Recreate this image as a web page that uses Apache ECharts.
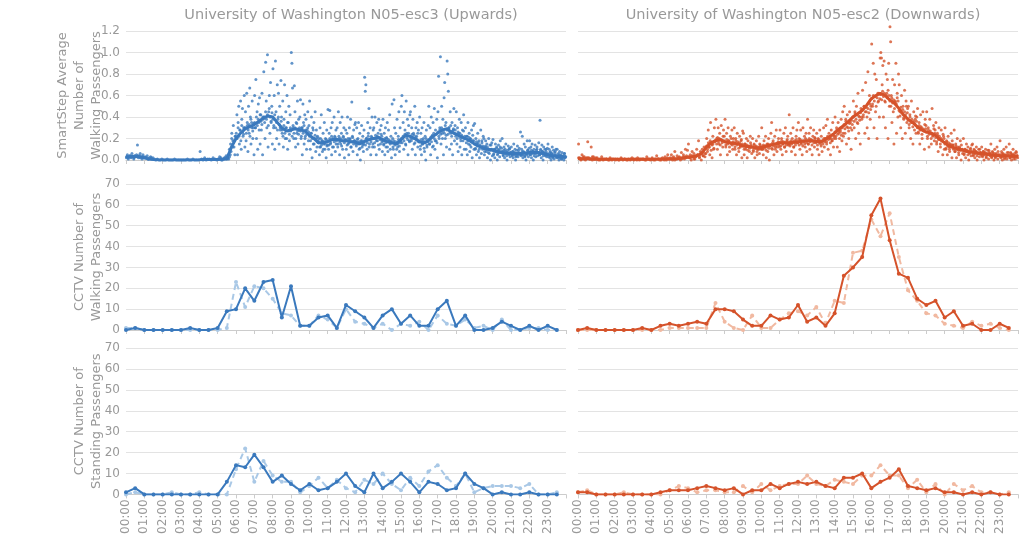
<!DOCTYPE html>
<html><head><meta charset="utf-8">
<script src="https://cdn.jsdelivr.net/npm/echarts@6/dist/echarts.min.js"></script>
<style>html,body{margin:0;padding:0;background:#fff}#c{width:1024px;height:537px}</style>
</head><body><div id="c"></div>
<script>
// ---------- DATA ----------
const hourLabels = ['00:00','01:00','02:00','03:00','04:00','05:00','06:00','07:00','08:00','09:00','10:00','11:00',
  '12:00','13:00','14:00','15:00','16:00','17:00','18:00','19:00','20:00','21:00','22:00','23:00'];
const slotTimes = ['00:00','00:30','01:00','01:30','02:00','02:30','03:00','03:30','04:00','04:30','05:00','05:30',
  '06:00','06:30','07:00','07:30','08:00','08:30','09:00','09:30','10:00','10:30','11:00','11:30',
  '12:00','12:30','13:00','13:30','14:00','14:30','15:00','15:30','16:00','16:30','17:00','17:30',
  '18:00','18:30','19:00','19:30','20:00','20:30','21:00','21:30','22:00','22:30','23:00','23:30'];

const titleUp = 'University of Washington N05-esc3 (Upwards)';
const titleDown = 'University of Washington N05-esc2 (Downwards)';

// CCTV walking passengers (solid = camera count, dashed = second count)
const upWalkA   = [0,1,0,0,0,0,0,1,0,0, 1,9,10,20,14,23,24,6,21,2, 2,6,7,1,12,9,6,1,7,10, 3,7,2,2,10,14,2,7,0,0, 1,4,2,0,2,0,2,0];
const upWalkB   = [1,1,0,0,0,0,0,0,0,0, 0,1,23,11,21,20,15,8,7,2, 2,7,5,1,10,4,3,1,3,0, 3,2,4,0,7,3,2,5,1,2, 0,5,0,0,1,1,0,0];
const downWalkA = [0,1,0,0,0,0,0,1,0,2, 3,2,3,4,3,10,10,9,5,2, 2,7,5,6,12,4,6,2,8,26, 30,35,55,63,43,27,25,15,12,14, 6,9,2,3,0,0,3,1];
const downWalkB = [0,0,0,0,0,0,0,0,0,0, 1,1,1,1,1,13,4,1,0,7, 1,1,5,8,9,7,11,3,14,13, 37,38,53,45,56,35,19,14,8,7, 3,2,1,4,2,3,1,0];
// CCTV standing passengers
const upStandA   = [1,3,0,0,0,0,0,0,0,0, 0,6,14,13,19,13,6,9,5,2, 5,2,3,6,10,4,1,10,3,6, 10,6,1,6,5,2,3,10,5,3, 0,1,0,0,1,0,0,0];
const upStandB   = [0,1,0,0,0,1,0,0,1,0, 0,0,12,22,6,16,9,6,6,1, 4,8,3,7,3,1,7,5,10,5, 2,8,4,11,14,8,4,10,1,3, 4,4,4,3,5,0,0,1];
const downStandA = [1,1,0,0,0,0,0,0,0,1, 2,2,2,3,4,3,2,3,0,2, 2,5,3,5,6,5,6,4,3,8, 8,10,3,6,8,12,4,3,2,3, 1,1,0,1,0,1,0,0];
const downStandB = [1,2,0,0,0,1,0,0,0,0, 2,4,3,1,2,2,1,1,4,1, 5,2,4,5,5,9,5,4,7,6, 5,9,9,14,9,9,3,7,1,5, 0,5,2,4,1,1,0,1];

// SmartStep trend (hour, average passengers)
const upTrend = [[0,.03],[.25,.03],[.5,.035],[.75,.03],[1,.02],[1.25,.01],[1.5,.005],[1.75,.002],[2,0],[2.5,0],[3,0],[3.5,0],
  [4,.002],[4.25,.005],[4.5,.005],[5,.005],[5.25,.008],[5.5,.01],[5.75,.12],[6,.2],[6.25,.25],[6.5,.29],[6.75,.31],[7,.33],
  [7.25,.36],[7.5,.39],[7.75,.41],[8,.40],[8.25,.35],[8.5,.30],[8.75,.27],[9,.28],[9.25,.29],[9.5,.28],[9.75,.27],[10,.23],
  [10.25,.2],[10.5,.16],[10.75,.16],[11,.17],[11.25,.19],[11.5,.19],[11.75,.18],[12,.18],[12.25,.17],[12.5,.17],[12.75,.15],
  [13,.17],[13.25,.19],[13.5,.2],[13.75,.21],[14,.19],[14.25,.17],[14.5,.16],[14.75,.15],[15,.19],[15.25,.23],[15.5,.22],
  [15.75,.2],[16,.17],[16.25,.16],[16.5,.18],[16.75,.22],[17,.25],[17.25,.28],[17.5,.29],[17.75,.26],[18,.24],[18.25,.22],
  [18.5,.2],[18.75,.18],[19,.15],[19.25,.13],[19.5,.11],[19.75,.1],[20,.09],[20.25,.08],[20.5,.07],[20.75,.065],[21,.06],
  [21.5,.06],[21.75,.065],[22,.07],[22.5,.07],[22.75,.06],[23,.05],[23.25,.04],[23.5,.035],[23.75,.03],[24,.03]];
const downTrend = [[0,.015],[.25,.012],[.5,.012],[.75,.01],[1,.008],[2,.006],[3,.006],[4,.008],[4.5,.01],[5,.01],[5.25,.012],
  [5.5,.015],[5.75,.02],[6,.025],[6.25,.03],[6.5,.04],[6.75,.06],[7,.12],[7.25,.16],[7.5,.18],[7.75,.19],[8,.17],[8.25,.16],
  [8.5,.155],[8.75,.15],[9,.13],[9.25,.125],[9.5,.12],[9.75,.11],[10,.12],[10.25,.13],[10.5,.14],[10.75,.15],[11,.16],
  [11.25,.16],[11.5,.16],[11.75,.165],[12,.17],[12.25,.175],[12.5,.18],[12.75,.18],[13,.175],[13.25,.17],[13.5,.19],
  [13.75,.22],[14,.25],[14.25,.29],[14.5,.32],[14.75,.36],[15,.4],[15.25,.43],[15.5,.46],[15.75,.51],[16,.57],[16.25,.6],
  [16.5,.62],[16.75,.6],[17,.56],[17.25,.53],[17.5,.48],[17.75,.42],[18,.38],[18.25,.35],[18.5,.31],[18.75,.28],[19,.26],
  [19.25,.25],[19.5,.23],[19.75,.19],[20,.16],[20.25,.13],[20.5,.115],[20.75,.1],[21,.09],[21.25,.08],[21.5,.075],
  [21.75,.065],[22,.06],[22.25,.055],[22.5,.05],[22.75,.045],[23,.04],[23.5,.04],[23.75,.035],[24,.035]];

// SmartStep samples, one list per half-hour slot (samples evenly spaced in time inside the slot)
const upSamples = [
 [.02,.05,.01,.03,.04,.02,.06,.03,.01,.04],
 [.03,.05,.14,.02,.04,.06,.03,.01,.05,.02],
 [.03,.02,.04,.01,.02,.03,.01,.02],
 [.01,0,.01,0,0,.01],
 [0,0,.01,0,0],
 [0,.01,0,0,0],
 [0,0,0,.01,0],
 [0,.01,0,0,0],
 [.08,.01,0,.02,0,.01],
 [.01,0,.02,.01,0],
 [.01,.03,.02,0,.01,.02,.04],
 [.01,.02,.01,.03,.05,.08,.25,.12,.32,.18,.05,.22],
 [.2,.42,.05,.35,.5,.15,.28,.55,.1,.38,.48,.22,.3,.6,.12],
 [.45,.18,.62,.32,.08,.5,.25,.67,.4,.15,.35,.55,.2,.3,.05],
 [.6,.3,.75,.2,.45,.1,.52,.35,.58,.15,.42,.28,.62,.05,.38],
 [.82,.4,.2,.91,.55,.3,.98,.12,.45,.6,.25,.72,.35,.5,.15],
 [.85,.3,.6,.1,.92,.45,.2,.7,.38,.62,.15,.5,.28,.74,.4],
 [.25,.55,.12,.38,.7,.2,.45,.3,.6,.1,.35,.5,.18,.42,.27],
 [1.0,.9,.67,.3,.2,.69,.45,.12,.35,.25,.55,.15,.38,.28,.4],
 [.56,.2,.3,.05,.52,.35,.15,.42,.22,.38,.1,.28,.45,.18,.32],
 [.55,.1,.25,.4,.02,.3,.15,.35,.2,.45,.08,.28,.12,.22,.18],
 [.2,.05,.3,.12,.42,.18,.08,.25,.15,.35,.1,.2,.02,.28,.14],
 [.47,.1,.25,.46,.15,.3,.05,.35,.2,.12,.4,.22,.08,.28,.18],
 [.3,.12,.45,.2,.05,.35,.15,.25,.4,.1,.22,.3,.02,.18,.28],
 [.1,.25,.4,.15,.05,.3,.2,.38,.12,.54,.22,.08,.28,.18,.33],
 [.35,.15,.3,.05,.2,.35,.1,.25,0,.18,.32,.12,.22,.08,.28],
 [.77,.64,.7,.2,.1,.35,.25,.48,.15,.3,.05,.22,.4,.12,.28],
 [.3,.12,.4,.2,.05,.35,.18,.25,.38,.1,.28,.15,.32,.22,.08],
 [.38,.15,.25,.05,.3,.12,.2,.35,.08,.28,.18,.42,.1,.22,.02],
 [.52,.2,.1,.56,.3,.05,.25,.15,.38,.12,.22,.45,.08,.3,.18],
 [.5,.6,.2,.35,.1,.45,.28,.15,.55,.25,.38,.05,.32,.18,.42],
 [.45,.2,.3,.1,.38,.25,.15,.5,.05,.3,.22,.35,.12,.28,.18],
 [.4,.1,.25,.05,.3,.15,.2,.35,.08,.22,0,.28,.12,.18,.32],
 [.5,.15,.3,.05,.4,.22,.12,.35,.25,.48,.1,.28,.18,.38,.02],
 [.45,.78,.2,.3,.96,.15,.5,.25,.38,.05,.58,.72,.2,.35,.12],
 [.92,.8,.64,.3,.1,.45,.25,.15,.35,.05,.28,.48,.18,.32,.22],
 [.45,.15,.3,.08,.25,.38,.12,.2,.35,.05,.28,.18,.42,.1,.22],
 [.3,.1,.22,.05,.35,.15,.25,.08,.2,.12,.28,.02,.18,.32,.1],
 [.34,.1,.2,.05,.15,.25,.08,.18,.02,.12,.28,.06,.16,.1,.22],
 [.2,.05,.12,.18,.08,.15,.02,.1,.2,.06,.14,0,.1,.16,.04],
 [.19,.05,.1,.02,.15,.08,.12,0,.06,.14,.1,.03,.18,.07,.11],
 [.2,.08,.04,.12,.02,.1,.15,.06,0,.09,.13,.05,.11,.03,.07],
 [.12,.05,.08,.02,.15,.06,.1,0,.04,.09,.13,.03,.07,.11,.05],
 [.26,.05,.1,.22,.02,.08,.15,.04,.12,0,.06,.18,.09,.03,.11],
 [.18,.05,.12,.02,.15,.08,0,.1,.06,.14,.03,.09,.12,.04,.07],
 [.16,.05,.37,.1,.02,.14,.08,0,.12,.06,.1,.04,.08,.03,.11],
 [.15,.05,.1,.02,.08,0,.06,.12,.03,.09,.01,.07,.04,.1,.02],
 [.1,.03,.06,0,.08,.02,.05,.01,.07,.03,.04,0,.06,.02,.03]
];
// further samples of the same slots, lying in the dense band around the trend
const upSamplesCore = [
 [.03,.02,.04,.03,.02],[.03,.04,.02,.03],[.02,.01,.02],[],[],[],[],[],[],[],[.01,0,.02],
 [.02,.05,.1,.15,.2,.18,.12,.22],
 [.25,.2,.3,.22,.28,.18,.32,.26,.24,.3],
 [.3,.25,.35,.28,.33,.22,.38,.3,.27,.34],
 [.35,.3,.4,.32,.38,.28,.42,.36,.33,.4],
 [.4,.35,.45,.38,.42,.32,.48,.4,.36,.44],
 [.38,.32,.42,.3,.35,.28,.4,.33,.3,.36],
 [.28,.22,.32,.25,.3,.2,.35,.27,.24,.3],
 [.28,.22,.32,.25,.3,.2,.34,.27,.24,.3],
 [.27,.22,.3,.25,.32,.2,.28,.24,.3,.26],
 [.22,.18,.25,.2,.28,.15,.23,.19,.21,.17],
 [.16,.12,.2,.14,.18,.1,.17,.15,.19,.13],
 [.18,.14,.2,.16,.22,.12,.19,.17,.21,.15],
 [.19,.15,.22,.17,.2,.13,.18,.21,.16,.19],
 [.18,.14,.2,.16,.19,.12,.17,.21,.15,.18],
 [.16,.13,.19,.15,.17,.11,.16,.18,.14,.15],
 [.18,.14,.2,.16,.22,.12,.19,.17,.21,.15],
 [.2,.16,.23,.18,.22,.14,.21,.19,.24,.17],
 [.18,.14,.2,.16,.21,.12,.19,.17,.15,.18],
 [.16,.12,.18,.14,.17,.1,.15,.19,.13,.16],
 [.2,.16,.22,.18,.24,.14,.21,.19,.25,.17],
 [.22,.18,.24,.2,.23,.16,.21,.19,.25,.17],
 [.17,.13,.19,.15,.18,.11,.16,.2,.14,.17],
 [.19,.15,.21,.17,.23,.13,.2,.18,.24,.16],
 [.26,.22,.28,.24,.3,.2,.27,.25,.32,.23],
 [.28,.24,.3,.26,.32,.22,.27,.29,.25,.28],
 [.24,.2,.26,.22,.25,.18,.23,.21,.27,.2],
 [.2,.16,.22,.18,.21,.14,.19,.17,.23,.18],
 [.15,.11,.17,.13,.16,.1,.14,.12,.18,.13],
 [.11,.08,.13,.1,.12,.07,.1,.09,.14,.1],
 [.09,.06,.1,.08,.11,.05,.09,.07,.12,.08],
 [.07,.05,.09,.06,.08,.04,.07,.06,.1,.07],
 [.06,.04,.08,.05,.07,.03,.06,.05,.09,.06],
 [.06,.04,.08,.05,.07,.03,.06,.05,.09,.06],
 [.07,.05,.09,.06,.08,.04,.07,.06,.1,.07],
 [.07,.05,.09,.06,.08,.04,.07,.05,.1,.06],
 [.05,.03,.07,.04,.06,.02,.05,.04,.08,.05],
 [.03,.02,.05,.03,.04,.01,.03,.02,.06,.03]
];
const downSamples = [
 [.15,.02,0,.05,.01,.03,0,.02],
 [.17,.02,.01,.12,0,.03,.01,.02],
 [.02,0,.01,.03,0,.01],
 [.01,0,.02,0,.01],
 [0,.01,0,.02,0],
 [.01,0,.01,0,.02],
 [0,.01,.02,0,.01],
 [.01,0,.03,.01,0],
 [.02,0,.01,.04,.01,0],
 [0,.02,.01,.03,0,.05,.01],
 [.02,.05,0,.03,.08,.01,.04,.02],
 [.03,0,.07,.02,.05,.01,.1,.04,.09],
 [.15,.02,.05,0,.08,.03,.06,.01,.04,.1],
 [.05,.18,.02,.08,0,.1,.04,.12,.03,.06],
 [.2,.08,.28,.12,.05,.35,.15,.02,.22,.1,.3,.18],
 [.38,.2,.1,.3,.15,.25,.05,.32,.18,.12,.28,.22],
 [.38,.12,.25,.05,.3,.18,.08,.22,.15,.28,.1,.2],
 [.3,.1,.2,.05,.25,.15,.08,.22,.12,.18,.02,.27],
 [.25,.05,.15,.1,.2,.02,.18,.12,.08,.22,.14,.06],
 [.2,.08,.15,.02,.12,.18,.05,.1,.22,.06,.14,.1],
 [.3,.1,.05,.18,.12,.22,.02,.15,.08,.2,0,.14],
 [.25,.35,.1,.18,.05,.22,.12,.28,.08,.15,.2,.12],
 [.28,.1,.2,.05,.15,.25,.12,.3,.08,.18,.22,.14],
 [.42,.15,.25,.08,.2,.3,.12,.18,.05,.22,.28,.16],
 [.35,.2,.1,.28,.15,.05,.3,.18,.22,.12,.25,.08],
 [.38,.15,.25,.1,.3,.18,.05,.22,.28,.12,.2,.16],
 [.25,.1,.2,.05,.28,.15,.22,.08,.18,.3,.12,.2],
 [.32,.15,.38,.1,.25,.2,.05,.28,.18,.35,.12,.22],
 [.4,.2,.3,.12,.35,.25,.08,.28,.38,.18,.45,.22],
 [.5,.25,.38,.15,.42,.3,.2,.45,.35,.1,.28,.4],
 [.55,.3,.45,.2,.5,.35,.62,.25,.4,.15,.48,.38],
 [.65,.4,.5,.25,.72,.45,.3,.82,.2,.6,.38,.5],
 [1.08,.5,.9,.3,.8,.45,.75,.2,.62,.55,.4,.95],
 [1.0,.95,.7,.88,.4,.92,.55,.3,.8,.62,.75,.2,.9,.5],
 [1.24,1.1,.6,.35,.75,.45,.15,.7,.55,.9,.25,.62,.4,.8],
 [.7,.45,.3,.6,.2,.5,.38,.65,.25,.55,.35,.48],
 [.5,.3,.42,.2,.55,.35,.15,.45,.28,.38,.25,.4],
 [.48,.25,.35,.15,.42,.3,.2,.45,.28,.1,.38,.32],
 [.45,.2,.3,.12,.38,.25,.15,.48,.22,.32,.18,.28],
 [.35,.15,.25,.08,.3,.2,.12,.28,.18,.05,.22,.1],
 [.3,.1,.18,.05,.22,.12,.08,.15,.25,.02,.14,.1],
 [.28,.08,.15,.02,.2,.1,.05,.12,.18,0,.1,.06],
 [.2,.05,.1,.02,.15,.08,.12,0,.06,.1,.04,.14],
 [.15,.04,.1,.02,.08,.12,0,.06,.1,.03,.07,.05],
 [.12,.03,.08,0,.06,.1,.02,.05,.09,.01,.07,.04],
 [.15,.02,.08,.05,0,.1,.03,.06,.12,.01,.05,.04],
 [.18,.03,.08,0,.06,.1,.02,.05,.12,.01,.04,.07],
 [.15,.02,.07,0,.05,.1,.03,.06,.01,.08,.04,.02]
];
const downSamplesCore = [
 [.02,.01,.03,.01],[.02,.01,.03,.01],[.01,0,.01],[.01,0,.01],[.01,0,.01],[.01,0,.01],[.01,0,.01],[.01,0,.01],[.01,0,.01],[.01,0,.02],
 [.01,.02,0,.01],[.02,.01,.03,.02],[.03,.02,.04,.01,.03],[.05,.03,.07,.04,.06],
 [.13,.1,.16,.12,.18,.09,.14,.15,.11,.17],
 [.18,.15,.21,.17,.2,.14,.19,.16,.22,.18],
 [.17,.14,.19,.15,.18,.12,.16,.2,.14,.17],
 [.15,.12,.18,.14,.17,.11,.16,.13,.19,.15],
 [.13,.1,.15,.12,.14,.09,.13,.11,.16,.12],
 [.12,.09,.14,.11,.13,.08,.12,.1,.15,.11],
 [.12,.1,.14,.11,.13,.09,.12,.15,.11,.13],
 [.14,.11,.16,.13,.15,.1,.14,.12,.17,.14],
 [.16,.13,.18,.15,.17,.12,.16,.14,.19,.15],
 [.16,.13,.18,.15,.17,.12,.16,.14,.19,.16],
 [.17,.14,.19,.16,.18,.13,.17,.15,.2,.16],
 [.18,.15,.2,.17,.19,.14,.18,.16,.21,.17],
 [.17,.14,.19,.16,.18,.13,.17,.15,.2,.17],
 [.2,.17,.22,.19,.21,.16,.2,.18,.23,.2],
 [.26,.22,.28,.24,.27,.2,.26,.23,.3,.25],
 [.33,.29,.36,.31,.35,.27,.34,.3,.37,.33],
 [.4,.36,.43,.38,.42,.34,.41,.37,.44,.4],
 [.47,.42,.5,.45,.49,.4,.48,.44,.52,.47],
 [.57,.52,.6,.55,.59,.5,.58,.54,.62,.57],
 [.61,.56,.64,.59,.62,.54,.6,.58,.65,.6],
 [.55,.5,.58,.53,.56,.48,.54,.52,.58,.55],
 [.46,.41,.49,.44,.47,.39,.45,.42,.5,.44],
 [.37,.33,.4,.35,.38,.31,.36,.34,.41,.36],
 [.3,.26,.32,.28,.31,.24,.29,.27,.33,.29],
 [.26,.22,.28,.24,.27,.2,.25,.23,.29,.25],
 [.21,.17,.23,.19,.22,.15,.2,.18,.24,.2],
 [.15,.11,.17,.13,.16,.1,.14,.12,.18,.14],
 [.11,.08,.13,.1,.12,.07,.11,.09,.14,.1],
 [.09,.06,.1,.08,.09,.05,.08,.07,.11,.08],
 [.07,.05,.09,.06,.08,.04,.07,.06,.1,.07],
 [.06,.04,.08,.05,.07,.03,.06,.05,.09,.06],
 [.05,.03,.07,.04,.06,.02,.05,.04,.08,.05],
 [.04,.02,.06,.03,.05,.01,.04,.03,.07,.04],
 [.04,.02,.06,.03,.05,.01,.04,.03,.07,.04]
];

// ---------- BUILD ----------
const slotHours = slotTimes.map(t => +t.slice(0,2) + (+t.slice(3)) / 60);
const toPairs = vals => vals.map((v, i) => [slotHours[i], v]);
const toSamples = (bins, shift) => {
  const out = [];
  bins.forEach((b, i) => b.forEach((v, j) => out.push([slotHours[i] + (j + shift) / b.length * 0.5, v])));
  return out;
};

const BLUE = '#3a79bd', BLUE_L = '#a9c8e6', RED = '#d5522a', RED_L = '#f1b9a1';
const GRAY = '#999999', FONT = 'DejaVu Sans';

const grids = [
  {left:126, top:31, width:440, height:129}, {left:578, top:31, width:440, height:129},
  {left:126, top:184, width:440, height:146}, {left:578, top:184, width:440, height:146},
  {left:126, top:348, width:440, height:147}, {left:578, top:348, width:440, height:147}
];

const xAxes = grids.map((g, i) => ({
  type:'value', gridIndex:i, min:0, max:24, interval:1,
  axisLine:{show:true, lineStyle:{color:'#cccccc', width:1}},
  axisTick:{show:true, length:4, lineStyle:{color:'#cccccc'}},
  splitLine:{show:false},
  axisLabel:{show: i >= 4, rotate:90, color:GRAY, fontFamily:FONT, fontSize:12, margin:5,
    formatter: v => (v < 24 ? hourLabels[v] : '')}
}));

const yNames = ['SmartStep Average\nNumber of\nWalking Passengers', 'CCTV Number of\nWalking Passengers', 'CCTV Number of\nStanding Passengers'];
const yAxes = grids.map((g, i) => {
  const row = Math.floor(i / 2), left = i % 2 === 0;
  const top = row === 0;
  return {
    type:'value', gridIndex:i, min:0, max: top ? 1.2 : 70, interval: top ? 0.2 : 10,
    axisLine:{show:false}, axisTick:{show:false},
    splitLine:{show:true, lineStyle:{color:'#e3e3e3', width:1}},
    axisLabel:{show:left, color:GRAY, fontFamily:FONT, fontSize:12, margin:6,
      formatter: v => top ? v.toFixed(1) : String(v)},
    name: left ? yNames[row] : '', nameLocation:'middle', nameRotate:90, nameGap:21, nameMoveOverlap:false,
    nameTextStyle:{color:GRAY, fontFamily:FONT, fontSize:13, lineHeight:17}
  };
});

const lineSeries = (idx, vals, color, dashed) => ({
  type:'line', xAxisIndex:idx, yAxisIndex:idx, data: toPairs(vals),
  symbol:'circle', symbolSize:4, showSymbol:true,
  lineStyle:{color, width:2, type: dashed ? [6,4] : 'solid'},
  itemStyle:{color}, z: dashed ? 2 : 3, animation:false
});

const scatterSeries = (idx, data, color) => ({
  type:'scatter', xAxisIndex:idx, yAxisIndex:idx, data, symbolSize:3,
  itemStyle:{color}, clip:false, animation:false, large:false
});

const series = [
  scatterSeries(0, toSamples(upSamples, 0.5).concat(toSamples(upSamplesCore, 0.25)), BLUE),
  {type:'line', xAxisIndex:0, yAxisIndex:0, data: upTrend, showSymbol:false,
   lineStyle:{color:BLUE, width:3}, z:4, animation:false},
  scatterSeries(1, toSamples(downSamples, 0.5).concat(toSamples(downSamplesCore, 0.25)), RED),
  {type:'line', xAxisIndex:1, yAxisIndex:1, data: downTrend, showSymbol:false,
   lineStyle:{color:RED, width:3}, z:4, animation:false},
  lineSeries(2, upWalkB, BLUE_L, true), lineSeries(2, upWalkA, BLUE, false),
  lineSeries(3, downWalkB, RED_L, true), lineSeries(3, downWalkA, RED, false),
  lineSeries(4, upStandB, BLUE_L, true), lineSeries(4, upStandA, BLUE, false),
  lineSeries(5, downStandB, RED_L, true), lineSeries(5, downStandA, RED, false)
];

const chart = echarts.init(document.getElementById('c'), null, {renderer:'canvas'});
chart.setOption({
  animation:false,
  backgroundColor:'#ffffff',
  title:[
    {text:titleUp, left:346, top:3, textAlign:'center', textStyle:{color:GRAY, fontFamily:FONT, fontSize:14.5, fontWeight:'normal'}},
    {text:titleDown, left:798, top:3, textAlign:'center', textStyle:{color:GRAY, fontFamily:FONT, fontSize:14.5, fontWeight:'normal'}}
  ],
  grid: grids,
  xAxis: xAxes,
  yAxis: yAxes,
  series
});
</script></body></html>
